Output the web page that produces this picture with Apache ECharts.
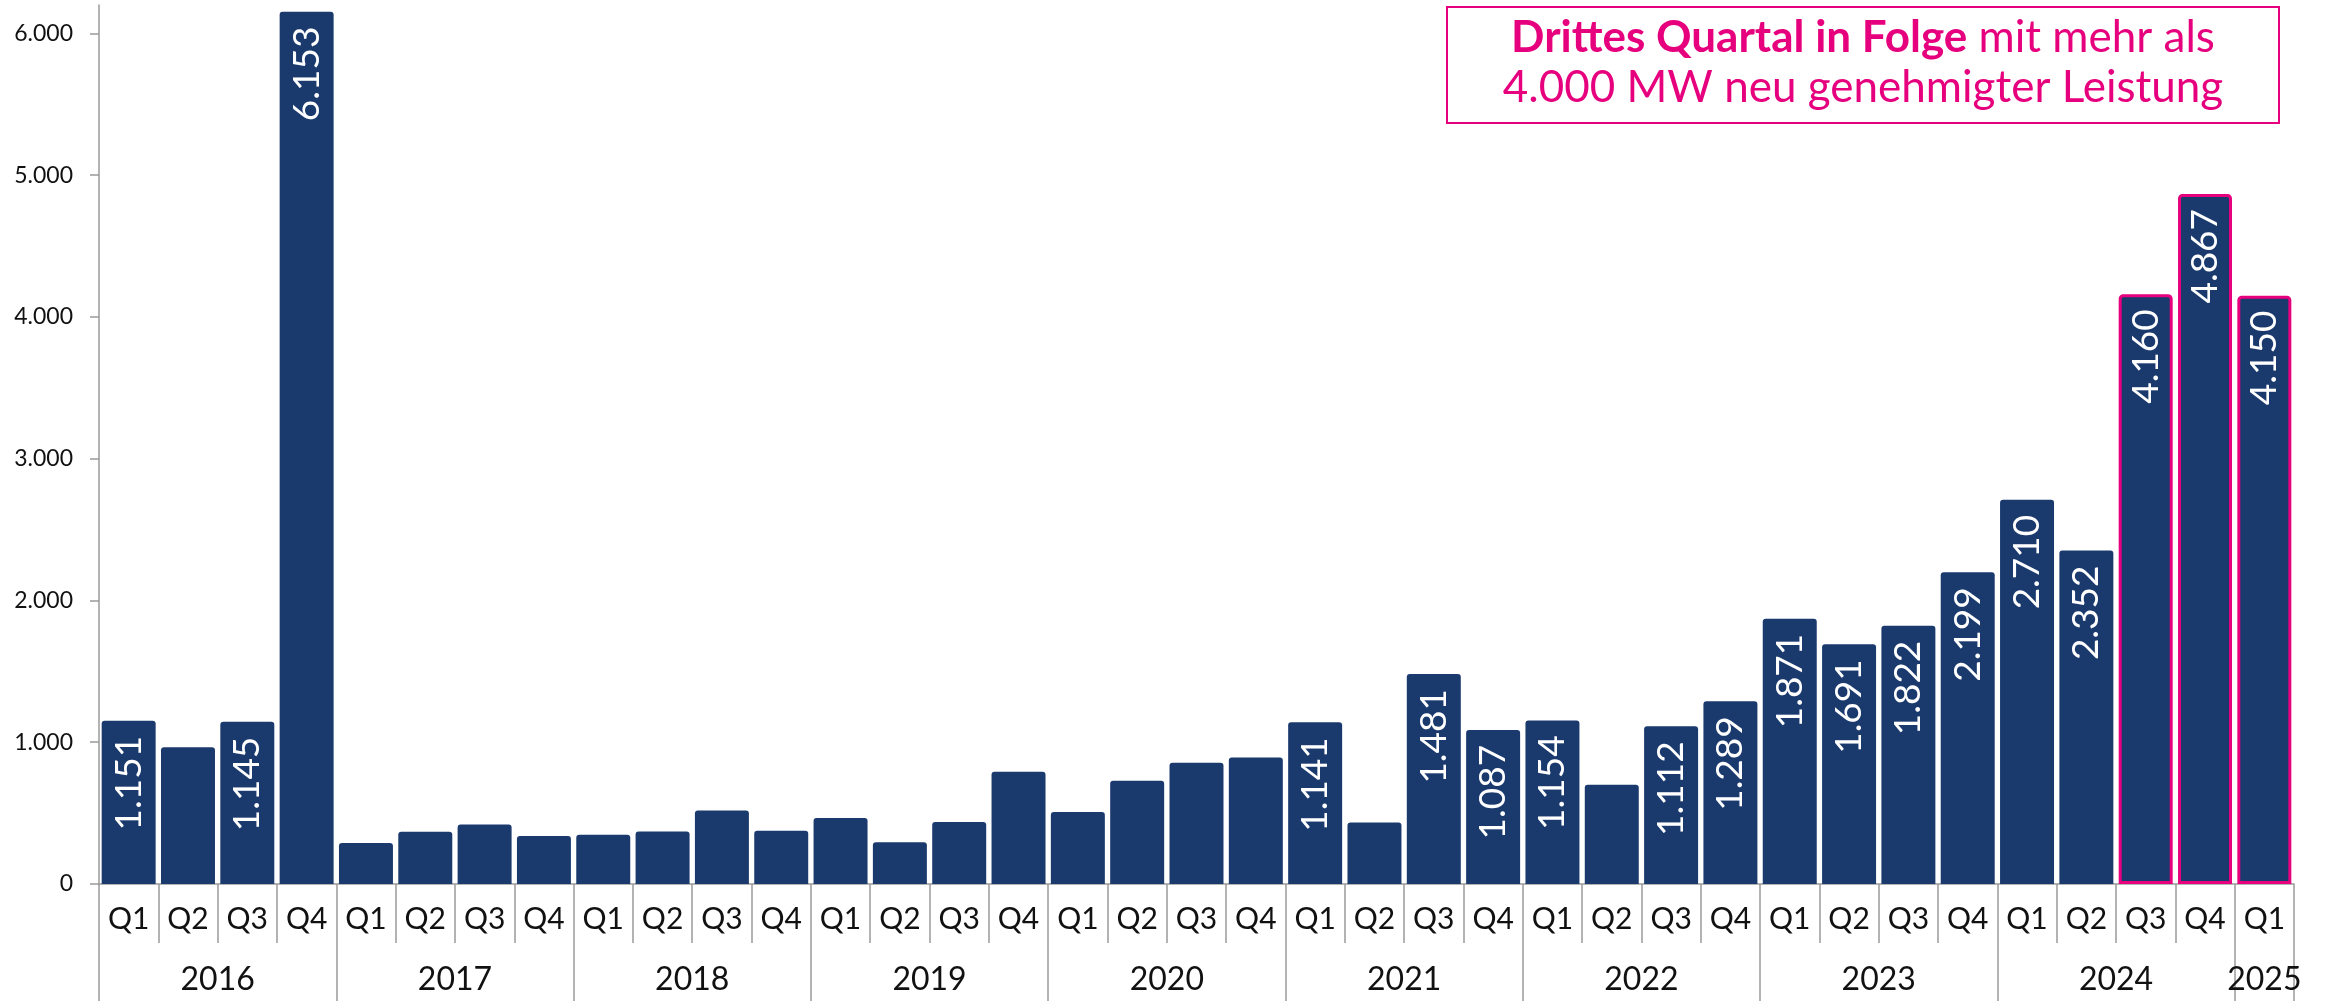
<!DOCTYPE html>
<html>
<head>
<meta charset="utf-8">
<title>Genehmigte Leistung je Quartal</title>
<script src="https://cdn.jsdelivr.net/npm/echarts@6/dist/echarts.min.js"></script>
<style>
  html, body { margin: 0; padding: 0; background: #fff; }
  #chart { width: 2326px; height: 1001px; }
</style>
</head>
<body>
<div id="chart"></div>
<script>
// Jahre und Anzahl Quartale je Jahr (2025 nur Q1)
const years = ['2016', '2017', '2018', '2019', '2020', '2021', '2022', '2023', '2024', '2025'];
const quartersPerYear = [4, 4, 4, 4, 4, 4, 4, 4, 4, 1];
const quarterNames = ['Q1', 'Q2', 'Q3', 'Q4'];

// neu genehmigte Leistung in MW je Quartal
const values = [
  1151, 965, 1145, 6153,   // 2016
  290, 368, 420, 338,      // 2017
  347, 370, 518, 375,      // 2018
  466, 295, 438, 792,      // 2019
  508, 729, 856, 893,      // 2020
  1141, 434, 1481, 1087,   // 2021
  1154, 700, 1112, 1289,   // 2022
  1871, 1691, 1822, 2199,  // 2023
  2710, 2352, 4160, 4867,  // 2024
  4150                     // 2025
];

// pink umrandete Quartale
const highlighted = ['2024 Q3', '2024 Q4', '2025 Q1'];

const yTicks = [0, 1000, 2000, 3000, 4000, 5000, 6000];

const BLUE = '#1a3a6e';
const PINK = '#e6007e';
const FONT = 'Lato';

// 1234 -> "1.234"
const fmt = (v) => String(Math.round(v)).replace(/\B(?=(\d{3})+(?!\d))/g, '.');

// Kategorien, Jahresgrenzen und Jahresmitten aufbauen
let categories = [];
let keys = [];
let yearBounds = [0];
let yearMids = [];
let pos = 0;
years.forEach((y, i) => {
  for (let q = 0; q < quartersPerYear[i]; q++) {
    categories.push(quarterNames[q]);
    keys.push(y + ' ' + quarterNames[q]);
  }
  yearMids.push(pos + quartersPerYear[i] / 2);
  pos += quartersPerYear[i];
  yearBounds.push(pos);
});

const barData = values.map((v, i) => {
  if (highlighted.indexOf(keys[i]) >= 0) {
    return { value: v, itemStyle: { borderColor: PINK, borderWidth: 3 } };
  }
  return v;
});

const myChart = echarts.init(document.getElementById('chart'));
myChart.setOption({
  animation: false,
  grid: { left: 99, right: 32, top: 5, bottom: 117 },
  xAxis: [
    {
      type: 'category',
      data: categories,
      axisLine: { lineStyle: { color: '#9a9a9a', width: 1.5 } },
      axisTick: { show: true, interval: 0, length: 59, lineStyle: { color: '#9a9a9a', width: 1.5 } },
      axisLabel: { interval: 0, margin: 20, color: '#111', fontFamily: FONT, fontSize: 30 }
    },
    {
      // zweite Ebene: Jahre
      type: 'value',
      position: 'bottom',
      min: 0,
      max: pos,
      axisLine: { show: false },
      splitLine: { show: false },
      axisTick: { show: true, length: 120, customValues: yearBounds, lineStyle: { color: '#9a9a9a', width: 1.5 } },
      axisLabel: {
        customValues: yearMids,
        margin: 80,
        color: '#111',
        fontFamily: FONT,
        fontSize: 32,
        formatter: (v) => years[yearMids.indexOf(v)]
      }
    }
  ],
  yAxis: {
    type: 'value',
    min: 0,
    max: 6200,
    splitLine: { show: false },
    axisLine: { show: true, lineStyle: { color: '#9a9a9a', width: 1.5 } },
    axisTick: { show: true, length: 9, customValues: yTicks, lineStyle: { color: '#9a9a9a', width: 1.5 } },
    axisLabel: { customValues: yTicks, margin: 26, color: '#111', fontFamily: FONT, fontSize: 23, formatter: fmt }
  },
  series: [
    {
      name: 'Leistung',
      type: 'bar',
      xAxisIndex: 0,
      barCategoryGap: '9%',
      data: barData,
      itemStyle: { color: BLUE, borderRadius: [3, 3, 0, 0] },
      label: {
        show: true,
        position: 'insideTop',
        distance: 15,
        rotate: 90,
        align: 'right',
        verticalAlign: 'middle',
        color: '#fff',
        fontFamily: FONT,
        fontSize: 37,
        formatter: (p) => (p.value >= 1000 ? fmt(p.value) : '')
      }
    }
  ],
  graphic: [
    {
      type: 'rect',
      shape: { x: 1447, y: 7, width: 832, height: 116 },
      style: { fill: '#fff', stroke: PINK, lineWidth: 2 }
    },
    {
      type: 'text',
      x: 1863,
      y: 63,
      style: {
        text: '{b|Drittes Quartal in Folge}{n| mit mehr als}\n{n|4.000 MW neu genehmigter Leistung}',
        align: 'center',
        verticalAlign: 'middle',
        textAlign: 'center',
        textVerticalAlign: 'middle',
        rich: {
          b: { fontFamily: FONT, fontWeight: 'bold', fontSize: 44, lineHeight: 50, fill: PINK, color: PINK },
          n: { fontFamily: FONT, fontSize: 44, lineHeight: 50, fill: PINK, color: PINK }
        }
      }
    }
  ]
});
</script>
</body>
</html>
